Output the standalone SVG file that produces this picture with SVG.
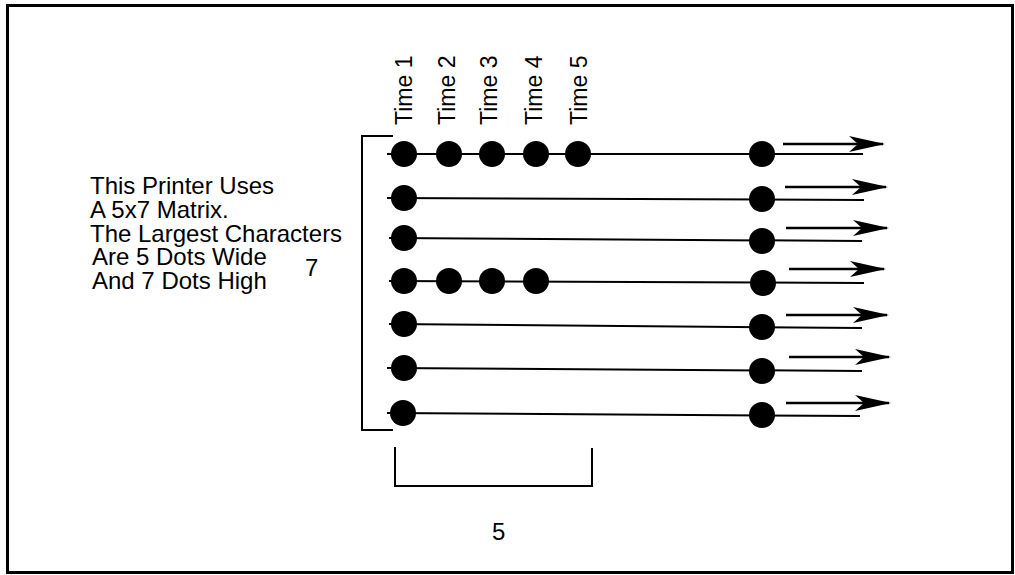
<svg xmlns="http://www.w3.org/2000/svg" width="1015" height="575" viewBox="0 0 1015 575">
<style>
.t{font-family:"Liberation Sans",Arial,sans-serif;font-size:24px;fill:#000}
.tl{font-family:"Liberation Sans",Arial,sans-serif;font-size:23px;fill:#000}
.ln{stroke:#000;stroke-width:2;fill:none}
.ar{stroke:#000;stroke-width:2.5;fill:none;marker-end:url(#ah)}
.d{fill:#000}
</style>
<defs>
<marker id="ah" viewBox="0 0 36 16" refX="34" refY="8" markerWidth="36" markerHeight="16" markerUnits="userSpaceOnUse" orient="auto">
<path d="M0,0 L36,8 L0,16 L9,8 z" fill="#000"/>
</marker>
</defs>
<rect x="0" y="0" width="1015" height="575" fill="#fff"/>
<rect x="7.5" y="5.5" width="1005" height="567" fill="none" stroke="#000" stroke-width="3"/>

<g id="description">
<text class="t" x="90" y="194">This Printer Uses</text>
<text class="t" x="90" y="218">A 5x7 Matrix.</text>
<text class="t" x="90" y="242">The Largest Characters</text>
<text class="t" x="92" y="265">Are 5 Dots Wide</text>
<text class="t" x="92" y="289">And 7 Dots High</text>
</g>
<g id="label-7"><text class="t" x="305" y="276">7</text></g>
<g id="label-5"><text class="t" x="492" y="540">5</text></g>

<g id="time-labels">
<text class="tl" transform="translate(412,125) rotate(-90)">Time 1</text>
<text class="tl" transform="translate(455,125) rotate(-90)">Time 2</text>
<text class="tl" transform="translate(497,125) rotate(-90)">Time 3</text>
<text class="tl" transform="translate(542,125) rotate(-90)">Time 4</text>
<text class="tl" transform="translate(587,125) rotate(-90)">Time 5</text>
</g>

<g id="brackets">
<path class="ln" d="M393,136 H362 V430 H393"/>
<path class="ln" d="M395,447 V486 H592 V448"/>
</g>

<g id="connectors">
<line class="ln" x1="387" y1="154" x2="863" y2="154"/>
<line class="ln" x1="387" y1="198" x2="864" y2="200"/>
<line class="ln" x1="389" y1="238" x2="862" y2="241"/>
<line class="ln" x1="389" y1="281" x2="864" y2="283"/>
<line class="ln" x1="389" y1="324" x2="862" y2="328"/>
<line class="ln" x1="387" y1="368" x2="862" y2="371"/>
<line class="ln" x1="387" y1="413" x2="860" y2="416"/>
<line class="ar" x1="783" y1="144" x2="883" y2="144"/>
<line class="ar" x1="785" y1="187" x2="886" y2="187"/>
<line class="ar" x1="786" y1="228" x2="887" y2="228"/>
<line class="ar" x1="789" y1="269" x2="884" y2="269"/>
<line class="ar" x1="786" y1="315" x2="887" y2="315"/>
<line class="ar" x1="789" y1="357" x2="889" y2="357"/>
<line class="ar" x1="786" y1="403" x2="889" y2="403"/>
</g>

<g id="dots-time">
<circle class="d" cx="404" cy="154" r="13"/>
<circle class="d" cx="449" cy="154" r="13"/>
<circle class="d" cx="492" cy="154" r="13"/>
<circle class="d" cx="536" cy="154" r="13"/>
<circle class="d" cx="578" cy="154" r="13"/>
<circle class="d" cx="404" cy="198" r="13"/>
<circle class="d" cx="404" cy="238" r="13"/>
<circle class="d" cx="404" cy="281" r="13"/>
<circle class="d" cx="449" cy="281" r="13"/>
<circle class="d" cx="492" cy="281" r="13"/>
<circle class="d" cx="536" cy="281" r="13"/>
<circle class="d" cx="404" cy="324" r="13"/>
<circle class="d" cx="404" cy="368" r="13"/>
<circle class="d" cx="403" cy="413" r="13"/>
</g>
<g id="dots-output">
<circle class="d" cx="762" cy="154" r="13"/>
<circle class="d" cx="762" cy="199" r="13"/>
<circle class="d" cx="762" cy="241" r="13"/>
<circle class="d" cx="763" cy="283" r="13"/>
<circle class="d" cx="762" cy="327" r="13"/>
<circle class="d" cx="762" cy="371" r="13"/>
<circle class="d" cx="762" cy="415" r="13"/>
</g>
</svg>
